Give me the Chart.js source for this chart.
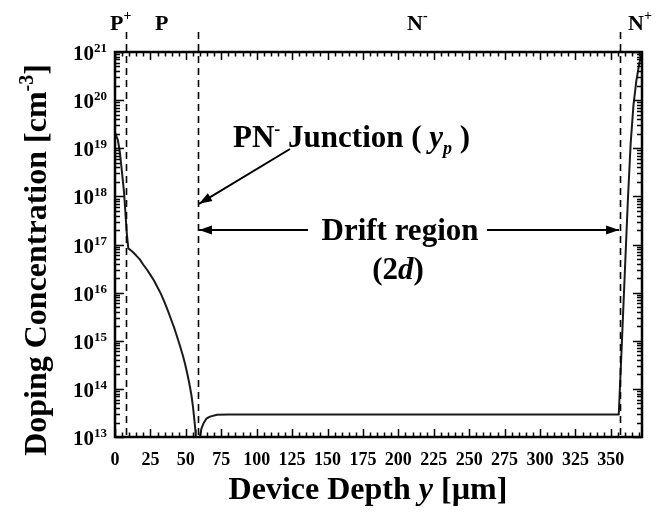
<!DOCTYPE html>
<html><head><meta charset="utf-8">
<script src="https://cdn.jsdelivr.net/npm/chart.js@4/dist/chart.umd.min.js"></script>
<style>html,body{margin:0;padding:0;background:#fff;}#wrap{width:659px;height:514px;}</style>
</head><body><div id="wrap"><canvas id="c" width="659" height="514"></canvas></div>
<script>
// ---- data ----
const depthUm = [0, 2, 3.5, 6.4, 8.3, 9.4, 12, 15, 17.5, 20, 22.5, 25, 27.5, 30, 32.5, 35, 37.5, 40, 42, 44, 46, 48, 49.5, 51, 52, 53, 54, 55, 55.7, 56.3, 56.7, 57.0,
                 null,
                 60, 61, 62.4, 64.5, 67, 72, 80, 355.6, 358, 360, 362, 364, 366, 368, 370, 372];
const dopingCm3 = [2.1e19, 1.5e19, 8e18, 1.2e18, 1.75e17, 8.3e16, 7.24e16, 5.89e16, 4.9e16, 3.8e16, 3.02e16, 2.34e16, 1.78e16, 1.29e16, 9.3e15, 6.3e15, 4.07e15, 2.57e15, 1.78e15, 1.17e15, 7.6e14, 4.8e14, 3.24e14, 2.09e14, 1.51e14, 1.07e14, 7.2e13, 4.4e13, 2.8e13, 1.9e13, 1.4e13, 1e13,
                 null,
                 1e13, 1.5e13, 1.9e13, 2.4e13, 2.65e13, 2.9e13, 2.95e13, 2.95e13, 1.26e15, 3.2e16, 8e17, 1.26e19, 8e19, 2.5e20, 5.6e20, 1e21];
const xTickVals = [0, 25, 50, 75, 100, 125, 150, 175, 200, 225, 250, 275, 300, 325, 350];
const yDecades = [13, 14, 15, 16, 17, 18, 19, 20, 21];
const regionBounds = [8, 58.6, 356.5];   // dashed region boundaries (µm)
const X_MIN = 0, X_MAX = 372, Y_MIN = 1e13, Y_MAX = 1e21;

const SERIF = '"Liberation Serif", "Times New Roman", serif';
const pts = depthUm.map((x, i) => ({x: x === null ? NaN : x, y: dopingCm3[i]}));

function drawRich(ctx, parts, x, y, align) {
  // parts: [text, size, italic, dy]
  let total = 0;
  parts.forEach(p => { ctx.font = (p[2] ? 'italic ' : '') + 'bold ' + p[1] + 'px ' + SERIF; p.w = ctx.measureText(p[0]).width; total += p.w; });
  let cx = align === 'center' ? x - total / 2 : x;
  ctx.textAlign = 'left'; ctx.textBaseline = 'alphabetic';
  parts.forEach(p => { ctx.font = (p[2] ? 'italic ' : '') + 'bold ' + p[1] + 'px ' + SERIF; ctx.fillText(p[0], cx, y + (p[3] || 0)); cx += p.w; });
}
function arrow(ctx, x1, y1, x2, y2) {
  ctx.beginPath(); ctx.moveTo(x1, y1); ctx.lineTo(x2, y2); ctx.stroke();
  const a = Math.atan2(y2 - y1, x2 - x1), L = 13, W = 4.5;
  ctx.beginPath();
  ctx.moveTo(x2, y2);
  ctx.lineTo(x2 - L * Math.cos(a) + W * Math.sin(a), y2 - L * Math.sin(a) - W * Math.cos(a));
  ctx.lineTo(x2 - L * Math.cos(a) - W * Math.sin(a), y2 - L * Math.sin(a) + W * Math.cos(a));
  ctx.closePath(); ctx.fill();
}

const decor = {
  id: 'decor',
  afterDraw(chart) {
    const ctx = chart.ctx, xs = chart.scales.x, ys = chart.scales.y;
    const {left, right, top, bottom} = chart.chartArea;
    ctx.save();
    ctx.fillStyle = '#000'; ctx.strokeStyle = '#000';
    // dashed region lines
    ctx.lineWidth = 1.6; ctx.setLineDash([7, 5]);
    regionBounds.forEach(b => { const px = Math.round(xs.getPixelForValue(b)) + 0.5; ctx.beginPath(); ctx.moveTo(px, top - 20); ctx.lineTo(px, bottom); ctx.stroke(); });
    ctx.setLineDash([]);
    // ticks
    ctx.lineWidth = 1.5;
    for (let v = X_MIN; v <= X_MAX; v += 5) {
      const px = Math.round(xs.getPixelForValue(v)) + 0.5;
      const len = v % 25 === 0 ? 8 : 4.5;
      ctx.beginPath(); ctx.moveTo(px, bottom); ctx.lineTo(px, bottom - len); ctx.moveTo(px, top); ctx.lineTo(px, top + len); ctx.stroke();
    }
    yDecades.forEach((n, i) => {
      const ks = i < yDecades.length - 1 ? [1, 2, 3, 4, 5, 6, 7, 8, 9] : [1];
      ks.forEach(k => {
        const py = Math.round(ys.getPixelForValue(k * Math.pow(10, n))) + 0.5;
        const len = k === 1 ? 9 : 5;
        ctx.beginPath(); ctx.moveTo(left, py); ctx.lineTo(left + len, py); ctx.moveTo(right, py); ctx.lineTo(right - len, py); ctx.stroke();
      });
    });
    // frame
    ctx.lineWidth = 2.5;
    ctx.strokeRect(left, top, right - left, bottom - top);
    // y labels 10^n
    yDecades.forEach(n => {
      const py = ys.getPixelForValue(Math.pow(10, n));
      ctx.font = 'bold 13px ' + SERIF; const sw = ctx.measureText(String(n)).width;
      ctx.font = 'bold 21px ' + SERIF; const bw = ctx.measureText('10').width;
      const endX = left - 8;
      ctx.textAlign = 'left'; ctx.textBaseline = 'alphabetic';
      ctx.fillText('10', endX - sw - bw, py + 8);
      ctx.font = 'bold 13px ' + SERIF; ctx.fillText(String(n), endX - sw, py);
    });
    // y title
    ctx.save();
    ctx.translate(46, 260);
    ctx.rotate(-Math.PI / 2);
    drawRich(ctx, [['Doping Concentration [cm', 32], ['-3', 20, false, -13], [']', 32]], 0, 0, 'center');
    ctx.restore();
    // x title
    drawRich(ctx, [['Device Depth ', 32], ['y', 32, true], [' [\u00b5m]', 32]], 368, 499, 'center');
    // region labels
    drawRich(ctx, [['P', 22], ['+', 14, false, -10]], 110, 30, 'left');
    drawRich(ctx, [['P', 22]], 155, 30, 'left');
    drawRich(ctx, [['N', 22], ['-', 14, false, -10]], 407, 30, 'left');
    drawRich(ctx, [['N', 22], ['+', 14, false, -10]], 628, 30, 'left');
    // annotations
    const jx = xs.getPixelForValue(regionBounds[1]);
    const nx = xs.getPixelForValue(regionBounds[2]);
    drawRich(ctx, [['PN', 31], ['-', 18, false, -12], [' Junction ( ', 31], ['y', 31, true], ['p', 18, true, 7], [' )', 31]], 233, 147, 'left');
    ctx.lineWidth = 2;
    arrow(ctx, 290, 149, jx + 1, ys.getPixelForValue(7e17));
    const dy = ys.getPixelForValue(2e17);
    drawRich(ctx, [['Drift region', 31]], 400, dy + 10, 'center');
    arrow(ctx, 308, dy, jx + 1, dy);
    arrow(ctx, 487, dy, nx - 1, dy);
    drawRich(ctx, [['(2', 31], ['d', 31, true], [')', 31]], 398, dy + 49, 'center');
    ctx.restore();
  }
};

new Chart(document.getElementById('c'), {
  type: 'line',
  data: { datasets: [{ data: pts, borderColor: '#1a1a1a', borderWidth: 2, pointRadius: 0, tension: 0, spanGaps: false, fill: false, borderJoinStyle: 'round' }] },
  options: {
    responsive: false, animation: false, events: [],
    layout: { padding: { left: 0, right: 17, top: 52, bottom: 0 } },
    plugins: { legend: { display: false }, tooltip: { enabled: false } },
    scales: {
      x: {
        type: 'linear', min: X_MIN, max: X_MAX,
        grid: { display: false }, border: { display: false },
        afterBuildTicks: s => { s.ticks = xTickVals.map(v => ({ value: v })); },
        afterFit: s => { s.height = 77; },
        ticks: { autoSkip: false, maxRotation: 0, padding: 5, color: '#000', font: { family: SERIF, size: 18, weight: 'bold' } }
      },
      y: {
        type: 'logarithmic', min: Y_MIN, max: Y_MAX,
        grid: { display: false }, border: { display: false },
        afterBuildTicks: s => { s.ticks = yDecades.map(n => ({ value: Math.pow(10, n) })); },
        afterFit: s => { s.width = 115; },
        ticks: { display: false }
      }
    }
  },
  plugins: [decor]
});
</script></body></html>
